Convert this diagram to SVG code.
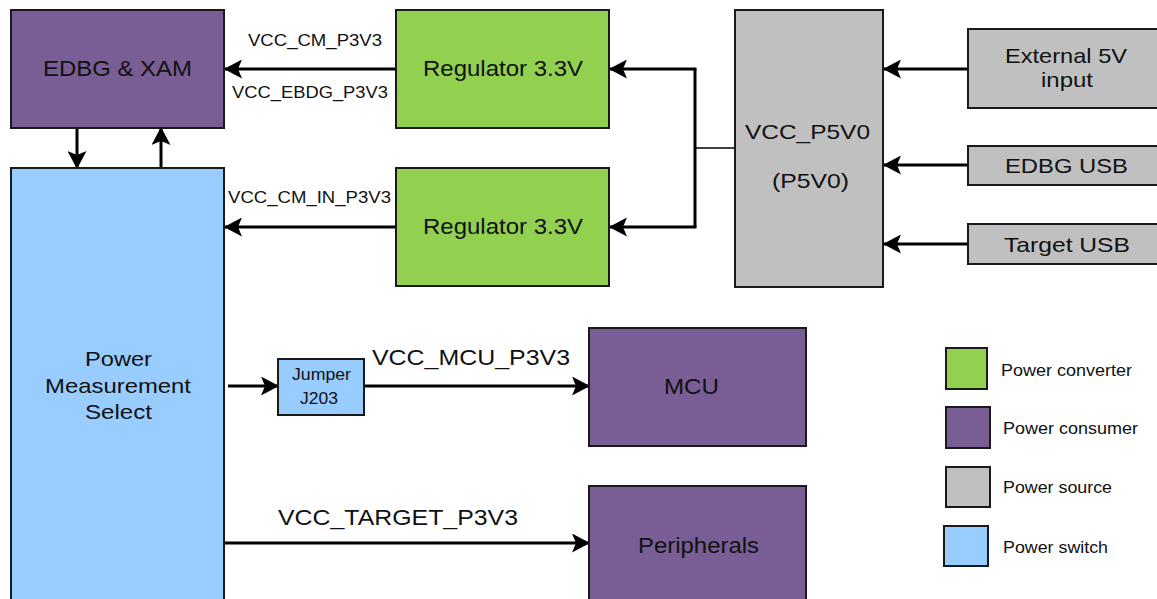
<svg xmlns="http://www.w3.org/2000/svg" width="1157" height="599" viewBox="0 0 1157 599">
<style>
.box{stroke:#1a1a1a;stroke-width:2}
.consumer{fill:#785E94}
.converter{fill:#92D050}
.source{fill:#C0C0C0}
.switch{fill:#99CCFF}
text{font-family:"Liberation Sans",Arial,sans-serif;fill:#111}
.big{font-size:22px}
.mid{font-size:21px}
.lbl{font-size:16.5px}
.leg{font-size:17px}
.sm{font-size:16px}
.wire{stroke:#000;stroke-width:3;fill:none}
.thin{stroke:#000;stroke-width:1.5;fill:none}
.arr{marker-end:url(#ah)}
</style>
<defs>
<marker id="ah" viewBox="0 0 18 19" refX="17" refY="9.5" markerWidth="18" markerHeight="19" markerUnits="userSpaceOnUse" orient="auto">
<path d="M0,0 L18,9.5 L0,19 L4,9.5 Z" fill="#000"/>
</marker>
</defs>
<rect width="1157" height="599" fill="#fff"/>

<g id="connectors">
<path class="wire arr" d="M396,69 L225,69"/>
<path class="wire arr" d="M396,227 L225,227"/>
<path class="wire arr" d="M77,128 L77,168"/>
<path class="wire arr" d="M161,168 L161,128"/>
<path class="thin" d="M735,148 L695,148"/>
<path class="wire" d="M695,69 L695,227"/>
<path class="wire arr" d="M696.5,69 L610,69"/>
<path class="wire arr" d="M696.5,227 L610,227"/>
<path class="wire arr" d="M968,69 L884,69"/>
<path class="wire arr" d="M968,165 L884,165"/>
<path class="wire arr" d="M968,244 L884,244"/>
<path class="wire arr" d="M228,386 L278,386"/>
<path class="wire arr" d="M364,386 L589,386"/>
<path class="wire arr" d="M224,543 L589,543"/>
<text class="lbl" x="248" y="46" textLength="134" lengthAdjust="spacingAndGlyphs">VCC_CM_P3V3</text>
<text class="lbl" x="232" y="98" textLength="156" lengthAdjust="spacingAndGlyphs">VCC_EBDG_P3V3</text>
<text class="lbl" x="228" y="203" textLength="163" lengthAdjust="spacingAndGlyphs">VCC_CM_IN_P3V3</text>
<text class="big" x="372" y="365" textLength="198" lengthAdjust="spacingAndGlyphs">VCC_MCU_P3V3</text>
<text class="big" x="278" y="525" textLength="240" lengthAdjust="spacingAndGlyphs">VCC_TARGET_P3V3</text>
</g>

<g id="edbg-xam">
<rect class="box consumer" x="11" y="10" width="213" height="118"/>
<text class="big" x="43" y="76" textLength="149" lengthAdjust="spacingAndGlyphs">EDBG &amp; XAM</text>
</g>

<g id="regulator-top">
<rect class="box converter" x="396" y="10" width="213" height="118"/>
<text class="big" x="423" y="76" textLength="160" lengthAdjust="spacingAndGlyphs">Regulator 3.3V</text>
</g>

<g id="regulator-bottom">
<rect class="box converter" x="396" y="168" width="213" height="118"/>
<text class="big" x="423" y="234" textLength="160" lengthAdjust="spacingAndGlyphs">Regulator 3.3V</text>
</g>

<g id="vcc-p5v0">
<rect class="box source" x="735" y="10" width="148" height="277"/>
<text class="mid" x="745" y="139" textLength="125" lengthAdjust="spacingAndGlyphs">VCC_P5V0</text>
<text class="mid" x="772" y="188" textLength="77" lengthAdjust="spacingAndGlyphs">(P5V0)</text>
</g>

<g id="external-5v">
<rect class="box source" x="968" y="29" width="200" height="79"/>
<text class="mid" x="1005" y="63" textLength="122" lengthAdjust="spacingAndGlyphs">External 5V</text>
<text class="mid" x="1041" y="87" textLength="52" lengthAdjust="spacingAndGlyphs">input</text>
</g>

<g id="edbg-usb">
<rect class="box source" x="968" y="146" width="200" height="39"/>
<text class="mid" x="1005" y="173" textLength="123" lengthAdjust="spacingAndGlyphs">EDBG USB</text>
</g>

<g id="target-usb">
<rect class="box source" x="968" y="224" width="200" height="40"/>
<text class="mid" x="1004" y="252" textLength="126" lengthAdjust="spacingAndGlyphs">Target USB</text>
</g>

<g id="power-measurement-select">
<rect class="box switch" x="11" y="168" width="213" height="440"/>
<text class="mid" x="85" y="366" textLength="67" lengthAdjust="spacingAndGlyphs">Power</text>
<text class="mid" x="45" y="393" textLength="146" lengthAdjust="spacingAndGlyphs">Measurement</text>
<text class="mid" x="85" y="419" textLength="67" lengthAdjust="spacingAndGlyphs">Select</text>
</g>

<g id="jumper-j203">
<rect class="box switch" x="278" y="359" width="86" height="56"/>
<text class="sm" x="292" y="380" textLength="59" lengthAdjust="spacingAndGlyphs">Jumper</text>
<text class="sm" x="300" y="404" textLength="38" lengthAdjust="spacingAndGlyphs">J203</text>
</g>

<g id="mcu">
<rect class="box consumer" x="589" y="328" width="217" height="118"/>
<text class="big" x="664" y="394" textLength="55" lengthAdjust="spacingAndGlyphs">MCU</text>
</g>

<g id="peripherals">
<rect class="box consumer" x="589" y="486" width="217" height="130"/>
<text class="big" x="638" y="553" textLength="121" lengthAdjust="spacingAndGlyphs">Peripherals</text>
</g>

<g id="legend">
<rect class="box converter" x="946" y="348" width="41" height="41"/>
<text class="leg" x="1001" y="376" textLength="131" lengthAdjust="spacingAndGlyphs">Power converter</text>
<rect class="box consumer" x="946" y="407" width="44" height="41"/>
<text class="leg" x="1003" y="434" textLength="135" lengthAdjust="spacingAndGlyphs">Power consumer</text>
<rect class="box source" x="946" y="467" width="44" height="40"/>
<text class="leg" x="1003" y="493" textLength="109" lengthAdjust="spacingAndGlyphs">Power source</text>
<rect class="box switch" x="944" y="526" width="44" height="40"/>
<text class="leg" x="1003" y="553" textLength="105" lengthAdjust="spacingAndGlyphs">Power switch</text>
</g>
</svg>
